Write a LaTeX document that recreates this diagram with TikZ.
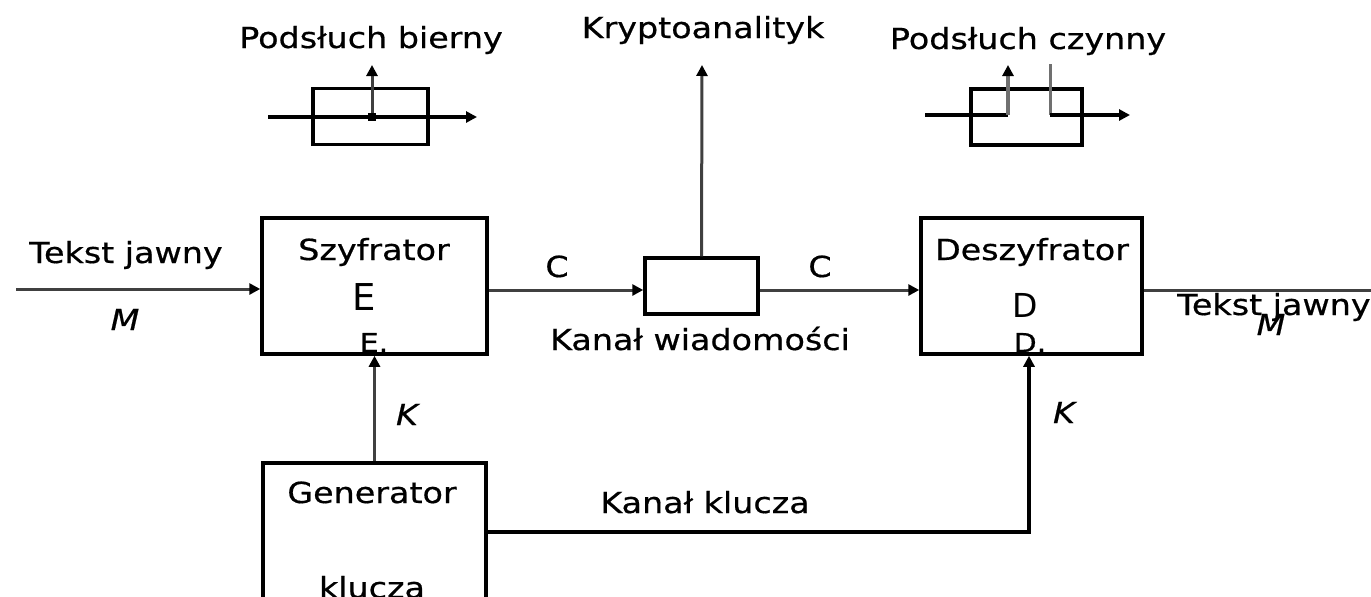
\documentclass[tikz,border=0pt]{standalone}
\usepackage{fontspec}
\setmainfont{DejaVu Sans}[FakeStretch=1.15,FakeBold=0.6]
\newfontfamily\plainfont{DejaVu Sans}
\usetikzlibrary{arrows.meta}
\definecolor{conncol}{HTML}{404040}
\definecolor{tapg}{HTML}{707070}
\begin{document}
\begin{tikzpicture}[x=1pt,y=-1pt,
  box/.style={draw=black,line width=3.5pt,inner sep=0pt},
  lbl/.style={font=\fontsize{29}{34}\selectfont,inner sep=0pt,anchor=base},
  ilbl/.style={font=\fontsize{29}{34}\selectfont\itshape,inner sep=0pt,anchor=base},
  frag/.style={font=\fontsize{26}{30}\selectfont,inner sep=0pt,anchor=base},
  conn/.style={draw=conncol,line width=3pt},
  blk/.style={draw=black,line width=3.5pt},
  arr/.style={-{Triangle[length=11pt,width=11pt,color=black]}},
]
\useasboundingbox (0,0) rectangle (1371,597);
\clip (0,0) rectangle (1371,597);
\fill[white] (0,0) rectangle (1371,597);

% boxes
\node[box,minimum width=225pt,minimum height=136pt] (enc) at (374.5,286) {};
\node[box,minimum width=221pt,minimum height=136pt] (dec) at (1031.5,286) {};
\node[box,minimum width=113pt,minimum height=56pt] (chan) at (701.5,286) {};
\node[box,minimum width=223pt,minimum height=160pt] (genb) at (374.5,543) {};
\node[box,minimum width=115pt,minimum height=56pt] (tapA) at (370.5,116.5) {};
\node[box,minimum width=111pt,minimum height=56pt] (tapB) at (1026.5,117) {};

% labels
\node[lbl] (pb) at (371,48) {Podsłuch bierny};
\node[lbl] (ka) at (703,38) {Kryptoanalityk};
\node[lbl] (pc) at (1028,49) {Podsłuch czynny};
\node[lbl] (tj1) at (126,263) {Tekst jawny};
\node[ilbl] (m1) at (125,330) {M};
\node[lbl] (sz) at (374,260) {Szyfrator};
\node[font=\plainfont\fontsize{37}{42}\selectfont,inner sep=0pt,anchor=base] (e) at (364,310) {E};
\node[lbl] (ds) at (1032,260) {Deszyfrator};
\node[font=\plainfont\fontsize{33}{38}\selectfont,inner sep=0pt,anchor=base] (d) at (1025,317) {D};
\node[lbl] (c1) at (557,277) {C};
\node[lbl] (c2) at (820,277) {C};
\node[lbl] (kw) at (700,350) {Kanał wiadomości};
\node[lbl] (gen) at (372,503) {Generator};
\node[lbl] (kl) at (372,598) {klucza};
\node[lbl] (kk) at (705,513) {Kanał klucza};
\node[ilbl] (k1) at (407,425) {K};
\node[ilbl] (k2) at (1064,423) {K};
\node[lbl,anchor=base west] (tj2) at (1177,315) {Tekst jawny};
\node[ilbl] (m2) at (1271,335) {M};

% clipped fragments
\begin{scope}
\clip (300,320) rectangle (450,352);
\node[frag] (ef) at (374,352) {E.};
\end{scope}
\begin{scope}
\clip (950,320) rectangle (1110,352);
\node[frag] (df) at (1030,352) {D.};
\end{scope}

% main connectors
\coordinate (inL) at (16,289);
\draw[conn,arr] (inL) -- (inL -| enc.west);
\draw[conn,arr] ([yshift=-4pt]enc.east) -- ([yshift=-4pt]chan.west);
\draw[conn,arr] ([yshift=-4pt]chan.east) -- ([yshift=-4pt]dec.west);
\coordinate (outR) at (1380,290);
\draw[conn] ([yshift=-4pt]dec.east) -- (outR);
\coordinate (kaT) at (702,65);
\draw[conn,arr] (chan.north) -- (kaT);
\draw[conn,arr] (genb.north) -- (enc.south);
\coordinate (kc) at (1029,532);
\draw[blk,arr] (genb.east |- kc) -- (kc) -- (kc |- dec.south);

% passive tap
\coordinate (pL) at (268,117);
\coordinate (pR) at (477,117);
\coordinate (pD) at (372,117);
\coordinate (pU) at (372,65);
\draw[blk,arr] (pL) -- (pR);
\draw[conn,arr] (pD) -- (pU);
\node[fill=black,minimum size=8pt,inner sep=0pt] (dot) at (pD) {};

% active tap
\coordinate (aL) at (925,115);
\coordinate (aC) at (1008,115);
\coordinate (aU) at (1008,65);
\coordinate (bT) at (1050,64);
\coordinate (bB) at (1050,115);
\coordinate (aR) at (1130,115);
\draw[blk] (aL) -- (aC);
\draw[draw=tapg,line width=4pt,arr] (aC) -- (aU);
\draw[draw=tapg,line width=3pt] (bT) -- (bB);
\draw[blk,arr] (bB) -- (aR);
\end{tikzpicture}
\end{document}
